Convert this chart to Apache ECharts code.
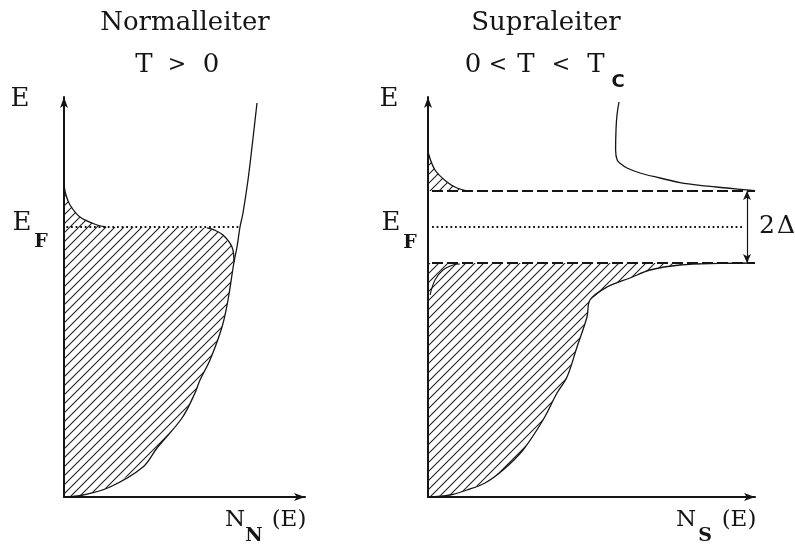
<!DOCTYPE html>
<html>
<head>
<meta charset="utf-8">
<script src="https://cdn.jsdelivr.net/npm/echarts@6/dist/echarts.min.js"></script>
<style>
  html, body { margin: 0; padding: 0; background: #fff; }
  #chart { width: 795px; height: 544px; }
</style>
</head>
<body>
<div id="chart"></div>
<script>
// Density of states N(E) of a normal conductor and of a superconductor (0 < T < Tc).
// Points are [N, E] in arbitrary units; E = 0 at the band bottom.

const energyMax = 100;
const normalNMax = 60.25;
const superNMax = 81.75;

const fermiLevel = 67.5;
const gapTop = 76.5;
const gapBottom = 58.5;
const gapArrowN = 79.75;

// Normal conductor: full density of states
const normalDos = [
  [0, 0], [4.75, 0.5], [11.5, 2.5], [19.75, 7.5], [23.25, 12.25], [29.5, 19.75],
  [32.75, 26], [34, 29.25], [36.5, 34.25], [39.5, 42.5], [41, 49.25], [42.5, 58.75],
  [43.25, 62.5], [44, 67.5], [44.75, 71], [46, 79.25], [47, 87.5], [48.25, 98.5]
];
// Normal conductor: occupied states below E_F (rounded Fermi edge)
const normalOccupiedEdge = [
  [42.5, 58.75], [42, 62.5], [39.75, 65.5], [37.5, 66.8], [35.75, 67.3]
];
// Normal conductor: thermally occupied tail above E_F
const normalThermalTail = [
  [10.5, 67.5], [8.25, 68], [4, 70], [1.5, 73], [0.5, 75.5], [0, 78]
];

// Superconductor: quasiparticle branch above the gap
const superUpperBranch = [
  [47.75, 98.75], [47.25, 95.5], [47, 91.75], [46.9, 86.75], [47.3, 84.25],
  [48.25, 83.25], [49.75, 82.25], [53, 81], [58, 79.75], [63, 78.6], [68, 77.9],
  [74.75, 77.25], [81.75, 76.6]
];
// Superconductor: branch below the gap (occupied)
const superLowerBranch = [
  [81.75, 58.5], [73, 58.4], [63, 58], [55.5, 56.75], [50.5, 54.75], [44.75, 52.5],
  [40.5, 49.25], [39.75, 45], [37.25, 37.5], [34.75, 30], [32.25, 26], [28.75, 19.25],
  [23.75, 11.75], [18.75, 6.75], [14.25, 3.5], [9.75, 1.75], [5.5, 0.5], [0, 0]
];
// Superconductor: thermally occupied tail above the gap
const superThermalTail = [
  [0, 86.25], [1.75, 81.75], [4.75, 78.75], [7.25, 77.25], [10, 76.5]
];
// Superconductor: small edge stroke near the lower gap corner
const superCornerStroke = [
  [0.5, 50.5], [1.75, 54.25], [3.75, 56.75], [6.25, 58], [8, 58.25]
];

const ink = '#151515';
const serif = '"DejaVu Serif", "Liberation Serif", serif';

// Diagonal hatching used for occupied states
function makeHatch() {
  const s = 9;
  const c = document.createElement('canvas');
  c.width = s; c.height = s;
  const g = c.getContext('2d');
  g.strokeStyle = '#1c1c1c';
  g.lineWidth = 1.05;
  g.beginPath();
  g.moveTo(0, s); g.lineTo(s, 0);
  g.moveTo(-1, 1); g.lineTo(1, -1);
  g.moveTo(s - 1, s + 1); g.lineTo(s + 1, s - 1);
  g.stroke();
  return { image: c, repeat: 'repeat' };
}
const hatch = makeHatch();

function hatchedArea(points, idx) {
  return {
    type: 'custom',
    xAxisIndex: idx, yAxisIndex: idx,
    silent: true,
    clip: false,
    data: [points[0]],
    renderItem: function (params, api) {
      return {
        type: 'polygon',
        shape: { points: points.map(p => api.coord(p)) },
        style: { fill: hatch, stroke: null }
      };
    }
  };
}

function curve(points, idx, width) {
  return {
    type: 'line', xAxisIndex: idx, yAxisIndex: idx,
    data: points, showSymbol: false, smooth: 0.35, clip: false, silent: true,
    lineStyle: { color: ink, width: width || 1.3 }
  };
}

function level(n0, n1, e, idx, style) {
  return {
    type: 'line', xAxisIndex: idx, yAxisIndex: idx,
    data: [[n0, e], [n1, e]], showSymbol: false, clip: false, silent: true,
    lineStyle: style
  };
}

const dashed = { color: ink, width: 2.2, type: [11, 4] };
const dotted = { color: ink, width: 1.8, type: [1.8, 2.8] };

function axisPair(max) {
  return {
    x: {
      type: 'value', min: 0, max: max,
      axisLine: { show: true, lineStyle: { color: ink, width: 2 }, symbol: ['none', 'arrow'], symbolSize: [6, 11] },
      axisTick: { show: false }, axisLabel: { show: false }, splitLine: { show: false }
    },
    y: {
      type: 'value', min: 0, max: energyMax,
      axisLine: { show: true, lineStyle: { color: ink, width: 2 }, symbol: ['none', 'arrow'], symbolSize: [6, 11] },
      axisTick: { show: false }, axisLabel: { show: false }, splitLine: { show: false }
    }
  };
}
const leftAxes = axisPair(normalNMax);
const rightAxes = axisPair(superNMax);

function txt(text, x, y, size, extra) {
  return {
    type: 'text', x: x, y: y, silent: true,
    style: Object.assign({
      text: text, fill: ink, font: size + 'px ' + serif,
      textAlign: 'center', textVerticalAlign: 'middle'
    }, extra || {})
  };
}
const subFont = 'bold 19px "DejaVu Serif", serif';

const chart = echarts.init(document.getElementById('chart'), null, { renderer: 'canvas' });
chart.setOption({
  animation: false,
  backgroundColor: '#fff',
  grid: [
    { left: 64, top: 97, width: 241, height: 400 },
    { left: 428, top: 97, width: 327, height: 400 }
  ],
  xAxis: [Object.assign({ gridIndex: 0 }, leftAxes.x), Object.assign({ gridIndex: 1 }, rightAxes.x)],
  yAxis: [Object.assign({ gridIndex: 0 }, leftAxes.y), Object.assign({ gridIndex: 1 }, rightAxes.y)],
  series: [
    // Normal conductor
    hatchedArea(normalDos.filter(p => p[1] <= 58.75)
      .concat(normalOccupiedEdge.slice(1))
      .concat(normalThermalTail), 0),
    curve(normalDos, 0),
    curve(normalOccupiedEdge, 0),
    curve(normalThermalTail, 0),
    level(0.6, 44, fermiLevel, 0, dotted),

    // Superconductor
    hatchedArea(superThermalTail.concat([[0, gapTop]]), 1),
    hatchedArea([[0, gapBottom]].concat(superLowerBranch), 1),
    curve(superUpperBranch, 1),
    curve(superLowerBranch, 1),
    curve(superThermalTail, 1),
    curve(superCornerStroke, 1, 1.1),
    level(1, superNMax, gapTop, 1, dashed),
    Object.assign(level(1, superNMax, gapBottom, 1, dashed), {
      markLine: {
        silent: true,
        symbol: ['arrow', 'arrow'],
        symbolSize: [6, 9],
        label: { show: false },
        lineStyle: { color: ink, width: 1.2, type: 'solid' },
        data: [[{ coord: [gapArrowN, gapTop] }, { coord: [gapArrowN, gapBottom] }]]
      }
    }),
    level(1, 79, fermiLevel, 1, dotted)
  ],
  graphic: [
    txt('Normalleiter', 185, 23, 26),
    txt('T', 144, 65, 26), txt('>', 177, 65, 22), txt('0', 211, 65, 26),
    txt('Supraleiter', 546, 23, 26),
    txt('0', 473, 65, 26), txt('<', 498, 65, 22), txt('T', 526, 65, 26),
    txt('<', 561, 65, 22), txt('T', 596, 65, 26),
    txt('C', 618, 82, 18, { font: 'bold 18px "DejaVu Sans", sans-serif' }),

    txt('E', 20, 99, 26),
    txt('E', 22, 223, 26), txt('F', 41, 242, 19, { font: subFont }),
    txt('E', 389, 99, 26),
    txt('E', 391, 223, 26), txt('F', 410, 243, 19, { font: subFont }),

    txt('N', 235, 520, 23), txt('N', 254, 536, 19, { font: subFont }), txt('(E)', 289, 520, 23),
    txt('N', 686, 520, 23), txt('S', 705, 536, 19, { font: subFont }), txt('(E)', 739, 520, 23),

    txt('2', 767, 226, 25), txt('Δ', 786, 226, 25)
  ]
});
</script>
</body>
</html>
